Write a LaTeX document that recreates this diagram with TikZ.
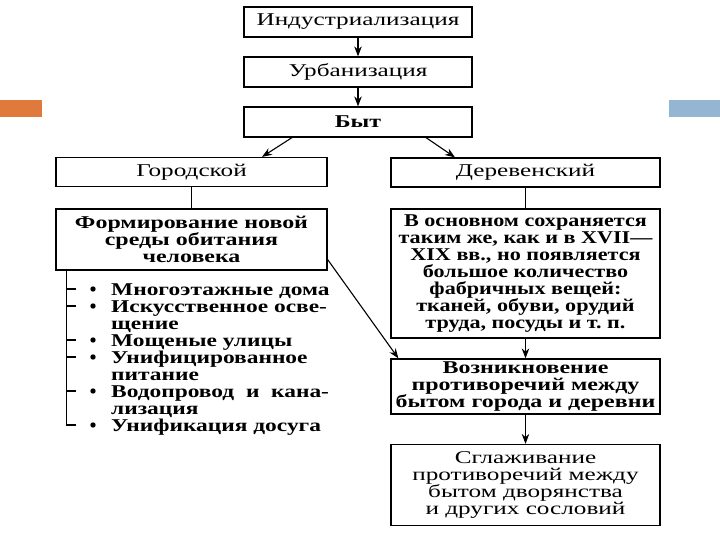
\documentclass[tikz,border=0pt]{standalone}
\usepackage{fontspec}
\setmainfont[FakeStretch=1.33]{Liberation Serif}
\newfontfamily\hdrfont[FakeStretch=1.40]{Liberation Serif}
\newfontfamily\lstfont[FakeStretch=1.30]{Liberation Serif}
\newfontfamily\osnfont[FakeStretch=1.23]{Liberation Serif}
\usetikzlibrary{arrows.meta}
\definecolor{barorange}{HTML}{E07A3C}
\definecolor{barblue}{HTML}{94B6D2}
\tikzset{
  box/.style={draw, line width=1.2pt, inner sep=0pt, align=center,
    font=\hdrfont\fontsize{18}{17}\selectfont},
  bbox/.style={draw, line width=1.2pt, inner sep=0pt, align=center,
    font=\fontsize{18}{17}\selectfont\bfseries},
  arr/.style={-{Stealth[length=10pt,width=7.5pt]}, line width=1.1pt},
  conn/.style={line width=1.1pt},
  litem/.style={anchor=base west, inner sep=0pt, font=\lstfont\fontsize{18}{17}\selectfont\bfseries},
  bul/.style={circle, fill, inner sep=0pt, minimum size=5.4pt}
}
\begin{document}
\begin{tikzpicture}[x=1pt,y=-1pt]
\useasboundingbox (0,0) rectangle (720,540);
% decorative bars
\fill[barorange] (0,100) rectangle (42,117);
\fill[barblue] (669,100) rectangle (720,117);

\node[box, minimum width=228pt, minimum height=30pt] (ind) at (358,22) {Индустриализация};
\node[box, minimum width=228pt, minimum height=30pt] (urb) at (358,72) {Урбанизация};
\node[bbox, minimum width=228pt, minimum height=30pt] (byt) at (358,122) {Быт};
\node[box, minimum width=271pt, minimum height=29pt] (gor) at (191.5,172) {Городской};
\node[box, minimum width=269pt, minimum height=29pt] (der) at (525.5,172.5) {Деревенский};
\node[bbox, minimum width=271pt, minimum height=61pt] (form) at (191.5,239.5)
  {Формирование новой\\среды обитания\\человека};
\node[bbox, minimum width=269pt, minimum height=129pt,
  font=\osnfont\fontsize{18}{17}\selectfont\bfseries] (osn) at (525.5,273.5)
  {В основном сохраняется\\таким же, как и в XVII—\\XIX вв., но появляется\\большое количество\\фабричных вещей:\\тканей, обуви, орудий\\труда, посуды и т.~п.};
\node[bbox, minimum width=269pt, minimum height=55pt] (voz) at (525.5,386.5)
  {Возникновение\\противоречий между\\бытом города и деревни};
\node[box, minimum width=269pt, minimum height=81pt] (sgl) at (525.5,485)
  {Сглаживание\\противоречий между\\бытом дворянства\\и других сословий};

% connectors
\draw[arr] (ind) -- (urb);
\draw[arr] (urb) -- (byt);
\draw[arr] ([xshift=-66pt]byt.south) -- ([xshift=70.5pt]gor.north);
\draw[arr] ([xshift=68pt]byt.south) -- ([xshift=-70.5pt]der.north);
\draw[conn] (gor) -- (form);
\draw[conn] (der) -- (osn);
\draw[arr] ([yshift=-20pt]form.east) -- ([xshift=8pt]voz.north west);
\draw[arr] (osn) -- (voz);
\draw[arr] (voz) -- (sgl);

% list
\node[bul] (b1) at (93,289) {};
\node[bul] (b2) at (93,306) {};
\node[bul] (b3) at (93,340) {};
\node[bul] (b4) at (93,357) {};
\node[bul] (b5) at (93,391) {};
\node[bul] (b6) at (93,425) {};
\node[litem] (l1) at (111,295) {Многоэтажные дома};
\node[litem] (l2) at (111,312) {Искусственное осве-};
\node[litem] (l2b) at (111,329) {щение};
\node[litem] (l3) at (111,346) {Мощеные улицы};
\node[litem] (l4) at (111,363) {Унифицированное};
\node[litem] (l4b) at (111,380) {питание};
\node[litem] (l5) at (111,397) {Водопровод \ и \ кана-};
\node[litem] (l5b) at (111,414) {лизация};
\node[litem] (l6) at (111,431) {Унификация досуга};

\coordinate (sp0) at ([xshift=11pt]form.south west);
\draw[conn] (sp0) |- ([xshift=-14pt]b6.west);
\foreach \b in {b1,b2,b3,b4,b5}{
  \draw[conn] (sp0 |- \b.west) -- ([xshift=-14pt]\b.west);
}
\end{tikzpicture}
\end{document}
